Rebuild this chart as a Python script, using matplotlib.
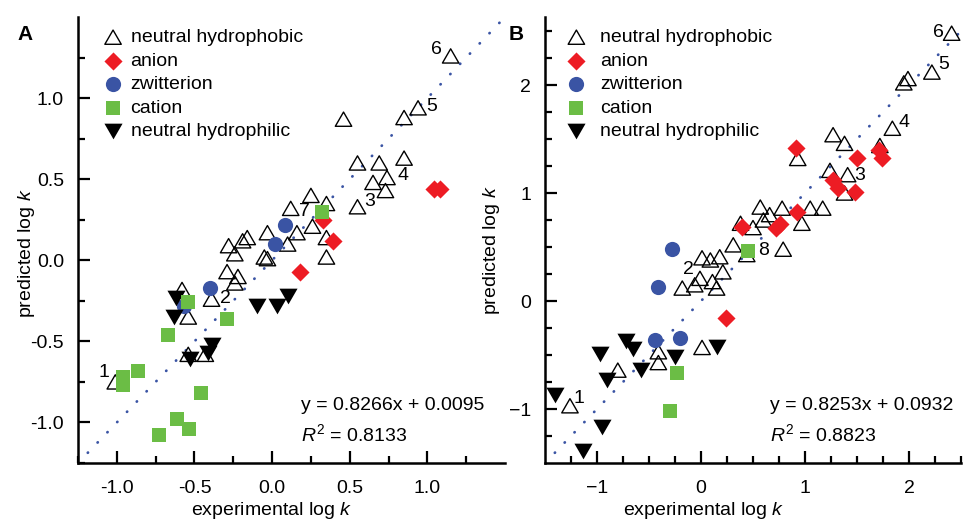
import matplotlib
matplotlib.use("Agg")
import matplotlib.pyplot as plt
from matplotlib.path import Path
from matplotlib.ticker import FixedLocator

plt.rcParams['font.family'] = 'Liberation Sans'
plt.rcParams['mathtext.fontset'] = 'custom'
plt.rcParams['mathtext.rm'] = 'Liberation Sans'
plt.rcParams['mathtext.it'] = 'Liberation Sans:italic'

# ---- panel A (experimental vs predicted log k) ----
a_phobic_x = [1.15, 0.94, 0.85, 0.46, 0.55, 0.69, 0.85, 0.74, 0.65, 0.73, 0.55, 0.35, 0.25, 0.12,
              0.26, 0.35, 0.35, 0.16, 0.10, -0.03, -0.16, -0.19, -0.28, -0.24, -0.05, -0.03,
              -0.29, -0.22, -0.24, -0.39, -0.58, -0.54, -0.54, -0.43, -1.01]
a_phobic_y = [1.26, 0.94, 0.88, 0.87, 0.60, 0.60, 0.63, 0.51, 0.48, 0.43, 0.33, 0.35, 0.40, 0.32,
              0.21, 0.14, 0.02, 0.17, 0.10, 0.17, 0.14, 0.12, 0.09, 0.04, 0.02, 0.01,
              -0.07, -0.10, -0.14, -0.24, -0.18, -0.35, -0.58, -0.58, -0.75]
a_anion_x = [1.04, 1.08, 0.39, 0.33, 0.18]
a_anion_y = [0.44, 0.44, 0.12, 0.25, -0.07]
a_zwit_x = [0.08, 0.02, -0.40, -0.57]
a_zwit_y = [0.22, 0.10, -0.17, -0.28]
a_cation_x = [0.32, -0.54, -0.67, -0.29, -0.96, -0.96, -0.865, -0.46, -0.61, -0.535, -0.73]
a_cation_y = [0.30, -0.26, -0.46, -0.36, -0.72, -0.77, -0.68, -0.82, -0.98, -1.04, -1.08]
a_philic_x = [-0.62, -0.63, -0.10, 0.03, 0.10, -0.39, -0.41, -0.53]
a_philic_y = [-0.23, -0.35, -0.28, -0.28, -0.22, -0.52, -0.57, -0.61]
a_num = ['1', '2', '3', '4', '5', '6', '7']
a_num_x = [-1.08, -0.30, 0.63, 0.845, 1.03, 1.06, 0.21]
a_num_y = [-0.69, -0.235, 0.36, 0.525, 0.95, 1.30, 0.30]
a_major = [-1.0, -0.5, 0.0, 0.5, 1.0]
a_minor = [-1.25, -0.75, -0.25, 0.25, 0.75, 1.25]

# ---- panel B ----
b_phobic_x = [2.41, 2.22, 1.99, 1.95, 1.84, 1.72, 1.38, 1.27, 0.93, 1.24, 1.41, 1.38, 0.57, 0.78,
              1.05, 1.17, 0.38, 0.50, 0.60, 0.66, 0.97, 0.31, 0.44, 0.79, 0.01, 0.09, 0.18,
              -0.01, 0.21, -0.18, -0.06, 0.11, 0.15, -0.41, -0.41, 0.01, -0.80, -1.26]
b_phobic_y = [2.48, 2.12, 2.06, 2.02, 1.60, 1.44, 1.46, 1.54, 1.32, 1.21, 1.17, 1.00, 0.87, 0.86,
              0.86, 0.86, 0.72, 0.68, 0.75, 0.80, 0.72, 0.52, 0.43, 0.48, 0.40, 0.38, 0.41,
              0.21, 0.27, 0.12, 0.15, 0.18, 0.12, -0.47, -0.57, -0.43, -0.64, -0.97]
b_anion_x = [0.91, 1.50, 1.71, 1.74, 1.27, 1.32, 1.48, 0.92, 0.72, 0.76, 0.39, 0.24]
b_anion_y = [1.42, 1.32, 1.40, 1.32, 1.12, 1.05, 1.01, 0.82, 0.68, 0.71, 0.69, -0.16]
b_zwit_x = [-0.28, -0.41, -0.44, -0.20]
b_zwit_y = [0.48, 0.13, -0.36, -0.34]
b_cation_x = [0.45, -0.23, -0.30]
b_cation_y = [0.46, -0.67, -1.02]
b_philic_x = [-1.40, -0.97, -0.90, -0.72, -0.65, -0.58, -0.25, 0.15, -0.95, -1.13]
b_philic_y = [-0.87, -0.49, -0.73, -0.37, -0.44, -0.64, -0.52, -0.43, -1.17, -1.39]
b_num = ['1', '2', '3', '4', '5', '6', '8']
b_num_x = [-1.17, -0.125, 1.53, 1.95, 2.33, 2.28, 0.60]
b_num_y = [-0.90, 0.29, 1.16, 1.65, 2.19, 2.49, 0.47]
b_major = [-1, 0, 1, 2]
b_minor = [-1.25, -0.75, -0.5, -0.25, 0.25, 0.5, 0.75, 1.25, 1.5, 1.75, 2.25, 2.5]

fit_text = ['y = 0.8266x + 0.0095', 'y = 0.8253x + 0.0932']
r2_text = ['$R^2$ = 0.8133', '$R^2$ = 0.8823']

RED = '#ED1C24'
BLUE = '#3A54A4'
GREEN = '#6BBD45'
up_tri = Path([(-1, -0.866), (1, -0.866), (0, 0.866), (-1, -0.866)], closed=True)
down_tri = Path([(-1, 0.866), (1, 0.866), (0, -0.866), (-1, 0.866)], closed=True)

fig = plt.figure(figsize=(9.65, 5.23), dpi=100)
axA = fig.add_axes([78/965, 1 - 463/523, 427/965, 446/523])
axB = fig.add_axes([545/965, 1 - 463/523, 416/965, 446/523])


def panel(ax, data, nums, lims, ticks, fits, legend_pad):
    (phx, phy, anx, any_, zwx, zwy, cax, cay, hix, hiy) = data
    h1 = ax.scatter(phx, phy, marker=up_tri, s=140, facecolors='none', edgecolors='black',
                    linewidths=1.0, zorder=3, label='neutral hydrophobic')
    h3 = ax.scatter(zwx, zwy, marker='o', s=120, color=BLUE, linewidths=0, zorder=4, label='zwitterion')
    h2 = ax.scatter(anx, any_, marker='D', s=85, color=RED, linewidths=0, zorder=4, label='anion')
    h5 = ax.scatter(hix, hiy, marker=down_tri, s=170, color='black', linewidths=0, zorder=4,
                    label='neutral hydrophilic')
    h4 = ax.scatter(cax, cay, marker='s', s=100, color=GREEN, linewidths=0, zorder=5, label='cation')

    lo, hi = lims[0]
    ax.plot([lo, hi], [lo, hi], color=BLUE, linewidth=2.0, linestyle=(0, (0.1, 5.0)),
            dash_capstyle='round', zorder=2)
    for t, x, y in zip(*nums):
        ax.text(x, y, t, fontsize=14, ha='center', va='center', zorder=6)

    ax.set_xlim(*lims[0])
    ax.set_ylim(*lims[1])
    for s in ['top', 'right']:
        ax.spines[s].set_visible(False)
    for s in ['left', 'bottom']:
        ax.spines[s].set_linewidth(1.8)
    for axis in [ax.xaxis, ax.yaxis]:
        axis.set_major_locator(FixedLocator(ticks[0]))
        axis.set_minor_locator(FixedLocator(ticks[1]))
    ax.tick_params(which='both', direction='in', labelsize=14, width=1.6)
    ax.tick_params(which='major', length=8.5)
    ax.tick_params(which='minor', length=5)
    ax.tick_params(axis='y', pad=10)
    ax.tick_params(axis='x', pad=12)

    ax.set_xlabel('experimental log $k$', fontsize=14)
    ax.set_ylabel('predicted log $k$', fontsize=14)

    ax.text(fits[2], 0.13, fits[0], transform=ax.transAxes, fontsize=14, va='center')
    ax.text(fits[2], 0.065, fits[1], transform=ax.transAxes, fontsize=14, va='center')

    ax.legend(handles=[h1, h2, h3, h4, h5], loc='upper left', bbox_to_anchor=(legend_pad[0], 1.0),
              frameon=False, fontsize=14, handlelength=1.0, handletextpad=legend_pad[1],
              labelspacing=0.3, borderpad=0, borderaxespad=0.6)


panel(axA, (a_phobic_x, a_phobic_y, a_anion_x, a_anion_y, a_zwit_x, a_zwit_y,
            a_cation_x, a_cation_y, a_philic_x, a_philic_y),
      (a_num, a_num_x, a_num_y), ((-1.25, 1.5), (-1.25, 1.5)), (a_major, a_minor),
      (fit_text[0], r2_text[0], 0.522), (0.032, 0.4))
axA.set_yticklabels([f'{v:.1f}' for v in a_major])
axA.set_xticklabels([f'{v:.1f}' for v in a_major])
axA.xaxis.set_label_coords(0.454, -0.082)
axA.yaxis.set_label_coords(-0.096, 0.47)

panel(axB, (b_phobic_x, b_phobic_y, b_anion_x, b_anion_y, b_zwit_x, b_zwit_y,
            b_cation_x, b_cation_y, b_philic_x, b_philic_y),
      (b_num, b_num_x, b_num_y), ((-1.5, 2.5), (-1.5, 2.63)), (b_major, b_minor),
      (fit_text[1], r2_text[1], 0.541), (0.024, 0.72))
axB.xaxis.set_label_coords(0.382, -0.082)
axB.yaxis.set_label_coords(-0.103, 0.478)

fig.text(25/965, 1 - 35/523, 'A', fontsize=15, fontweight='bold', ha='center', va='center')
fig.text(516/965, 1 - 35/523, 'B', fontsize=15, fontweight='bold', ha='center', va='center')

fig.savefig('out.png', dpi=100)
